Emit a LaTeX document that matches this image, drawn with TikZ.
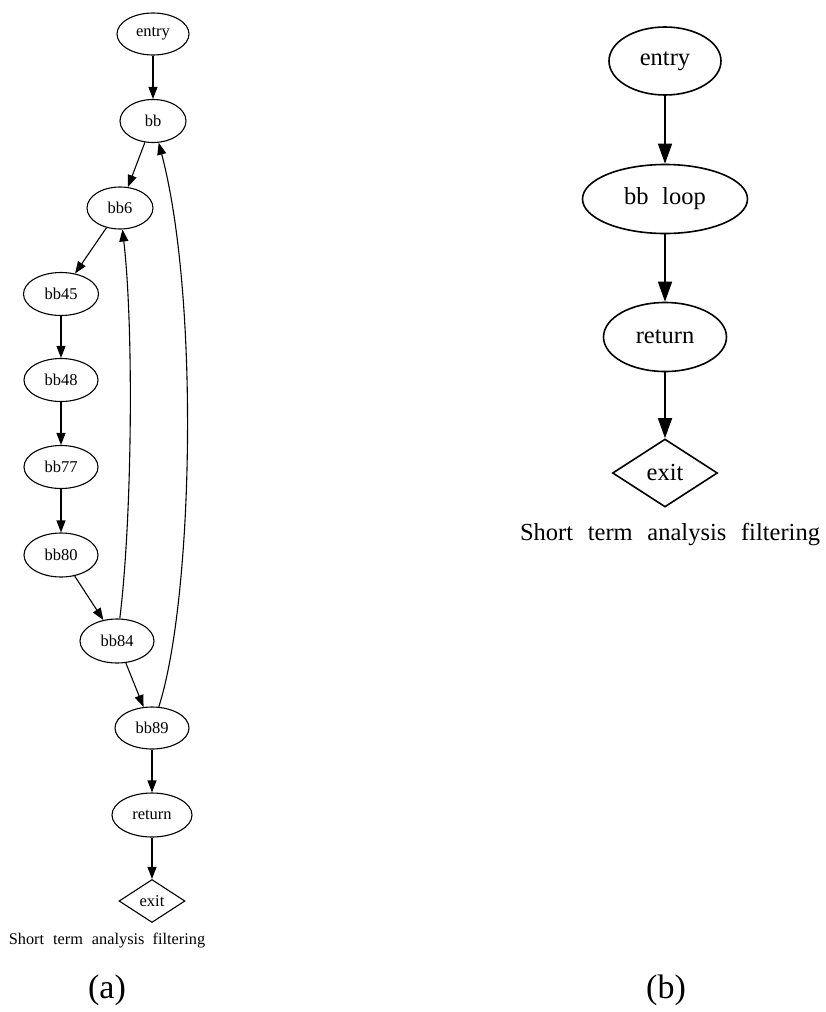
\documentclass[tikz,border=0pt]{standalone}
\usepackage{fontspec}
\setmainfont{Liberation Serif}
\usetikzlibrary{shapes.geometric,arrows.meta}

\begin{document}
\begin{tikzpicture}[x=1pt,y=-1pt,
  % left control-flow graph (detailed)
  sblock/.style={ellipse,draw,line width=1.1pt,inner sep=0pt,
    font=\fontsize{16.5}{18}\selectfont},
  sexit/.style={diamond,draw,line width=1.1pt,inner sep=0pt,
    font=\fontsize{16.5}{18}\selectfont},
  sedge/.style={line width=1.1pt,-{Triangle[length=12pt,width=9pt]}},
  % right control-flow graph (collapsed loop)
  bblock/.style={ellipse,draw,line width=1.6pt,inner sep=0pt,
    font=\fontsize{24.5}{27}\selectfont},
  bexit/.style={diamond,draw,line width=1.6pt,inner sep=0pt,
    font=\fontsize{24.5}{27}\selectfont},
  bedge/.style={line width=1.6pt,-{Triangle[length=20pt,width=14pt]}},
  sublabel/.style={font=\fontsize{34}{38}\selectfont,anchor=base}
]
\useasboundingbox (0,0) rectangle (825,1012);

% ---------- (a) ----------
\node[sblock,minimum width=72pt,minimum height=42pt] (aentry) at (153,34) {entry};
\node[sblock,minimum width=66pt,minimum height=43pt] (abb)    at (153,121) {bb};
\node[sblock,minimum width=66pt,minimum height=42pt] (abb6)   at (120,208) {bb6};
\node[sblock,minimum width=75pt,minimum height=43pt] (abb45)  at (61,294) {bb45};
\node[sblock,minimum width=74pt,minimum height=43pt] (abb48)  at (61,380) {bb48};
\node[sblock,minimum width=74pt,minimum height=43pt] (abb77)  at (61,467) {bb77};
\node[sblock,minimum width=74pt,minimum height=44pt] (abb80)  at (61,555) {bb80};
\node[sblock,minimum width=74pt,minimum height=44pt] (abb84)  at (117,641) {bb84};
\node[sblock,minimum width=74pt,minimum height=42pt] (abb89)  at (152,728) {bb89};
\node[sblock,minimum width=80pt,minimum height=44pt] (aret)   at (152,815) {return};
\node[sexit,minimum width=66pt,minimum height=43pt]  (aexit)  at (152,901) {exit};
\node[anchor=base,font=\fontsize{16.3}{18}\selectfont] (acap) at (107,944)
  {Short\hspace{0.55em}term\hspace{0.55em}analysis\hspace{0.5em}filtering};
\node[sublabel] (alabel) at (107,998) {(a)};

\draw[sedge] (aentry) -- (abb);
\draw[sedge] (abb) -- (abb6);
\draw[sedge] (abb6) -- (abb45);
\draw[sedge] (abb45) -- (abb48);
\draw[sedge] (abb48) -- (abb77);
\draw[sedge] (abb77) -- (abb80);
\draw[sedge] (abb80) -- (abb84);
\draw[sedge] (abb84) -- (abb89);
\draw[sedge] (abb89) -- (aret);
\draw[sedge] (aret) -- (aexit);
% back edges of the loop
\draw[sedge] (abb84) .. controls (132,520) and (134,330) .. (abb6);
\draw[sedge] (abb89) .. controls (193,600) and (200,300) .. (abb);

% ---------- (b) ----------
\node[bblock,minimum width=112pt,minimum height=68pt] (bentry) at (665,61) {entry};
\node[bblock,minimum width=165pt,minimum height=69pt] (bloop)  at (665,199) {bb\hspace{0.55em}loop};
\node[bblock,minimum width=123pt,minimum height=69pt] (bret)   at (665,337) {return};
\node[bexit,minimum width=105pt,minimum height=68pt]  (bexitn) at (665,473) {exit};
\node[anchor=base,font=\fontsize{24.5}{27}\selectfont] (bcap) at (670,540)
  {Short\hspace{0.6em}term\hspace{0.6em}analysis\hspace{0.6em}filtering};
\node[sublabel] (blabel) at (666,998) {(b)};

\draw[bedge] (bentry) -- (bloop);
\draw[bedge] (bloop) -- (bret);
\draw[bedge] (bret) -- (bexitn);
\end{tikzpicture}
\end{document}
